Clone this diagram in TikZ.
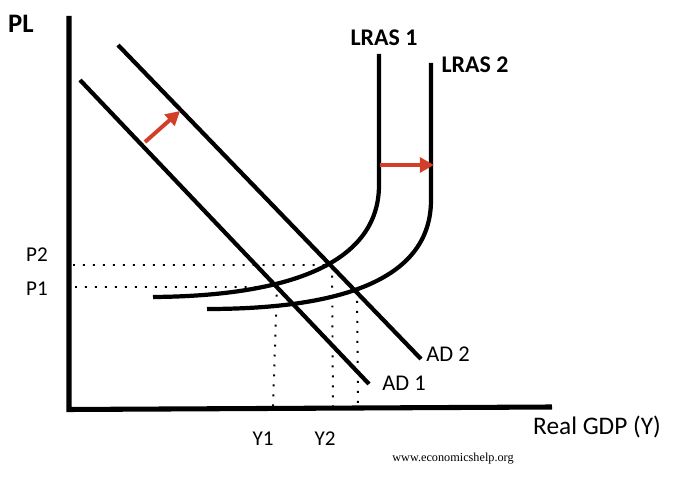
\documentclass[tikz,border=0pt]{standalone}
\usepackage{fontspec}
\setmainfont{Carlito}
\newfontfamily\webfont{Liberation Serif}
\usetikzlibrary{arrows.meta}
\definecolor{shiftred}{RGB}{210,62,40}
\begin{document}
\begin{tikzpicture}[x=0.025cm, y=-0.025cm,
  axis/.style={line width=3.6pt},
  curve/.style={line width=3pt},
  guide/.style={line width=1.4pt, dash pattern=on 1.4pt off 5.7pt},
  shiftarrow/.style={line width=2.8pt, shiftred, -{Triangle[length=10pt, width=10.5pt]}},
  lab/.style={font=\fontsize{15}{15}\selectfont},
  title/.style={font=\bfseries\fontsize{17}{17}\selectfont}]
\useasboundingbox (0,0) rectangle (686,484);

\coordinate (top) at (69,16);
\coordinate (origin) at (69,407);
\coordinate (right) at (552,407);
\draw[axis] (top) -- (69,409.5) -- (right);
\node[font=\bfseries\fontsize{19}{19}\selectfont] (pl) at (21,24) {PL};
\node[font=\fontsize{18}{18}\selectfont] (gdp) at (597,427) {Real GDP (Y)};

\coordinate (ad1a) at (80,80);
\coordinate (ad1b) at (369,384);
\coordinate (ad2a) at (118,45);
\coordinate (ad2b) at (421,359);
\draw[curve] (ad1a) -- (ad1b);
\draw[curve] (ad2a) -- (ad2b);
\node[lab, font=\fontsize{16}{16}\selectfont] (ad1) at (404,383) {AD 1};
\node[lab, font=\fontsize{16}{16}\selectfont] (ad2) at (448,354) {AD 2};

\coordinate (l1top) at (379,54);
\coordinate (l1bend) at (379,185);
\coordinate (l1end) at (153,297);
\coordinate (l2top) at (431,63);
\coordinate (l2bend) at (431,200);
\coordinate (l2end) at (207,309);
\draw[curve] (l1top) -- (l1bend) .. controls (379,262) and (292,296) .. (l1end);
\draw[curve] (l2top) -- (l2bend) .. controls (431,278) and (345,309) .. (l2end);
\node[title] (lras1) at (384,38) {LRAS 1};
\node[title] (lras2) at (475,65) {LRAS 2};

\coordinate (e1) at (277,287);
\coordinate (e2) at (332,265);
\coordinate (e3) at (357,291);
\draw[guide] (73,265) -- (e2) -- (333,406);
\draw[guide] (75,287) -- (e1) -- (273,406);
\draw[guide] (e3) -- (358,406);
\node[lab] (p2) at (37,255) {P2};
\node[lab] (p1) at (37,289) {P1};
\node[lab] (y1) at (263,439) {Y1};
\node[lab] (y2) at (325,439) {Y2};

\coordinate (a1s) at (145,142);
\coordinate (a1e) at (180,111);
\coordinate (a2s) at (380,165);
\coordinate (a2e) at (434,165);
\draw[shiftarrow] (a1s) -- (a1e);
\draw[shiftarrow] (a2s) -- (a2e);

\node[font=\webfont\fontsize{8.7}{8.7}\selectfont] (web) at (453,459) {www.economicshelp.org};
\end{tikzpicture}
\end{document}
